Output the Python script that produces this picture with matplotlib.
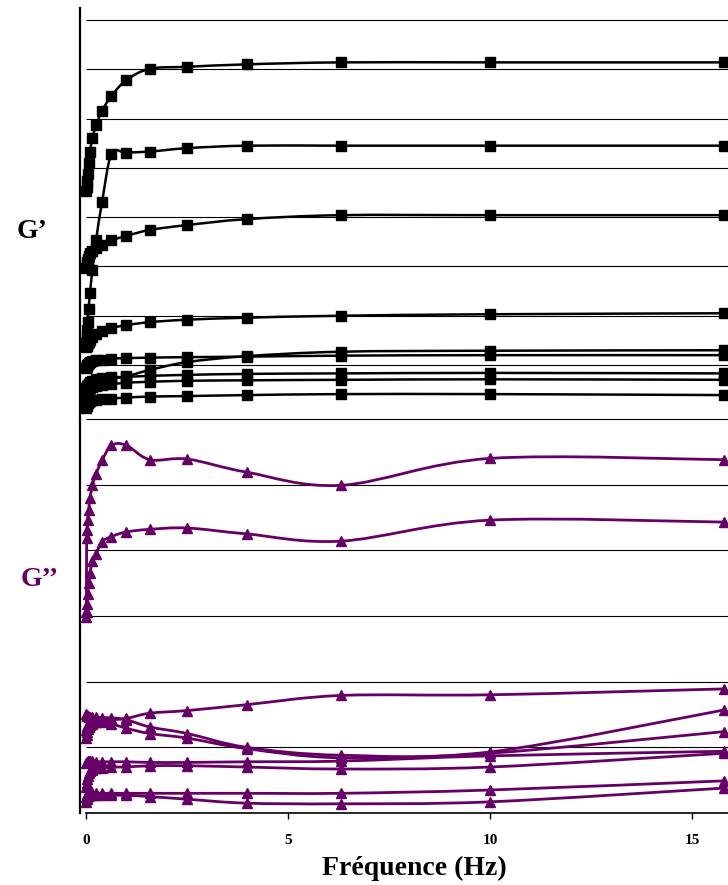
import numpy as np
import matplotlib
matplotlib.use('Agg')
import matplotlib.pyplot as plt
from matplotlib.path import Path
from matplotlib.patches import PathPatch

plt.rcParams['font.family'] = ['Liberation Serif', 'DejaVu Serif']

# Frequencies (Hz)
freq = [0.01, 0.0158, 0.0251, 0.0398, 0.0631, 0.1, 0.158, 0.251, 0.398, 0.631,
        1.0, 1.58, 2.51, 3.98, 6.31, 10.0, 15.8]

# G' series (arbitrary units, one unit per grid step)
gp_A = [4.53, 4.61, 4.73, 4.88, 5.10, 5.33, 5.60, 5.87, 6.16, 6.46, 6.78, 7.01, 7.05, 7.10, 7.14, 7.14, 7.14]
gp_B = [1.47, 1.59, 1.71, 1.87, 2.14, 2.46, 2.93, 3.54, 4.31, 5.28, 5.31, 5.33, 5.40, 5.45, 5.45, 5.45, 5.45]
gp_C = [2.97, 3.03, 3.09, 3.15, 3.21, 3.27, 3.32, 3.37, 3.43, 3.53, 3.62, 3.74, 3.84, 3.96, 4.04, 4.04, 4.04]
gp_D = [1.37, 1.39, 1.41, 1.44, 1.47, 1.51, 1.56, 1.62, 1.69, 1.75, 1.81, 1.87, 1.92, 1.96, 2.00, 2.03, 2.05]
gp_E = [0.53, 0.55, 0.57, 0.59, 0.61, 0.64, 0.66, 0.68, 0.70, 0.73, 0.77, 0.90, 1.06, 1.18, 1.27, 1.29, 1.30]
gp_F = [0.94, 0.97, 1.00, 1.03, 1.05, 1.07, 1.09, 1.10, 1.11, 1.13, 1.14, 1.15, 1.16, 1.17, 1.19, 1.20, 1.20]
gp_G = [0.45, 0.49, 0.53, 0.57, 0.61, 0.65, 0.68, 0.71, 0.73, 0.75, 0.76, 0.78, 0.80, 0.82, 0.83, 0.84, 0.83]
gp_H = [0.35, 0.39, 0.43, 0.47, 0.50, 0.53, 0.55, 0.57, 0.59, 0.61, 0.64, 0.66, 0.68, 0.69, 0.70, 0.71, 0.70]
gp_I = [0.13, 0.16, 0.19, 0.22, 0.25, 0.27, 0.29, 0.30, 0.31, 0.32, 0.34, 0.36, 0.37, 0.39, 0.41, 0.41, 0.39]

# G'' series (arbitrary units, one unit per grid step)
gpp_1 = [3.06, 4.19, 4.31, 4.46, 4.61, 4.79, 4.99, 5.17, 5.37, 5.60, 5.60, 5.38, 5.39, 5.19, 4.99, 5.40, 5.38]
gpp_2 = [2.98, 3.06, 3.19, 3.34, 3.50, 3.65, 3.83, 3.95, 4.13, 4.21, 4.28, 4.32, 4.34, 4.25, 4.14, 4.46, 4.43]
gpp_3 = [1.14, 1.19, 1.23, 1.28, 1.31, 1.34, 1.36, 1.39, 1.40, 1.42, 1.44, 1.52, 1.56, 1.65, 1.79, 1.80, 1.89]
gpp_4 = [1.51, 1.49, 1.48, 1.47, 1.46, 1.46, 1.46, 1.46, 1.45, 1.45, 1.42, 1.31, 1.21, 1.00, 0.88, 0.93, 1.57]
gpp_5 = [1.26, 1.29, 1.32, 1.34, 1.35, 1.37, 1.38, 1.39, 1.38, 1.36, 1.29, 1.21, 1.14, 0.98, 0.84, 0.91, 1.24]
gpp_6 = [0.76, 0.78, 0.78, 0.79, 0.79, 0.79, 0.79, 0.78, 0.78, 0.78, 0.78, 0.77, 0.77, 0.78, 0.79, 0.87, 0.94]
gpp_7 = [0.40, 0.46, 0.52, 0.56, 0.61, 0.64, 0.66, 0.68, 0.68, 0.70, 0.70, 0.72, 0.72, 0.70, 0.67, 0.70, 0.91]
gpp_8 = [0.24, 0.27, 0.29, 0.30, 0.30, 0.30, 0.30, 0.30, 0.30, 0.30, 0.30, 0.30, 0.30, 0.30, 0.30, 0.35, 0.49]
gpp_9 = [0.17, 0.21, 0.24, 0.26, 0.27, 0.27, 0.28, 0.28, 0.28, 0.27, 0.27, 0.25, 0.21, 0.15, 0.14, 0.17, 0.38]

gp_series = [gp_A, gp_B, gp_C, gp_D, gp_E, gp_F, gp_G, gp_H, gp_I]
gpp_series = [gpp_1, gpp_2, gpp_3, gpp_4, gpp_5, gpp_6, gpp_7, gpp_8, gpp_9]

xticks = [0, 5, 10, 15]
xlabel = 'Fréquence (Hz)'
label_gp = 'G\u2019'
label_gpp = 'G\u2019\u2019'

PURPLE = '#660066'
W, H = 728, 885
XMIN, XMAX = -0.1485, 15.89


def smooth_path(x, y):
    pts = np.column_stack([x, y]).astype(float)
    n = len(pts)
    verts = [pts[0]]
    codes = [Path.MOVETO]
    for i in range(n - 1):
        p0 = pts[max(i - 1, 0)]
        p1 = pts[i]
        p2 = pts[i + 1]
        p3 = pts[min(i + 2, n - 1)]
        c1 = p1 + (p2 - p0) / 6.0
        c2 = p2 - (p3 - p1) / 6.0
        verts += [c1, c2, p2]
        codes += [Path.CURVE4] * 3
    return Path(verts, codes)


fig = plt.figure(figsize=(W / 100, H / 100), dpi=100)

def frac_x(px):
    return px / W

def frac_y(py):
    return 1 - py / H

# upper axes: from y=8 to y=419 px ; lower: 419 to 813 px
left = frac_x(80)
width = frac_x(728) - left
ax_u = fig.add_axes([left, frac_y(419), width, frac_y(8) - frac_y(419)])
ax_l = fig.add_axes([left, frac_y(813), width, frac_y(419) - frac_y(813)])

for ax in (ax_u, ax_l):
    ax.set_xlim(XMIN, XMAX)
    ax.spines['top'].set_visible(False)
    ax.spines['right'].set_visible(False)
    ax.spines['left'].set_linewidth(1.6)
    ax.set_yticks([])
    ax.patch.set_alpha(0)

ax_u.set_ylim(-0.095, 8.243)
ax_u.spines['bottom'].set_visible(False)
ax_u.set_xticks([])
ax_u.hlines(range(1, 9), 0, XMAX, color='black', lw=0.8, zorder=1)

ax_l.set_ylim(0, 6)
ax_l.hlines(range(1, 7), 0, XMAX, color='black', lw=0.8, zorder=1, clip_on=False)
ax_l.spines['bottom'].set_bounds(0, XMAX)
ax_l.spines['bottom'].set_linewidth(1.2)
ax_l.set_xticks(xticks)
ax_l.set_xticklabels([str(t) for t in xticks], fontsize=11, fontweight='bold')
ax_l.tick_params(axis='x', direction='out', length=4, width=1.0, pad=11)

for s in gp_series:
    ax_u.add_patch(PathPatch(smooth_path(freq, s), fill=False, edgecolor='black',
                             lw=1.8, zorder=3))
    ax_u.plot(freq, s, linestyle='none', marker='s', ms=7, color='black',
              mec='black', zorder=4)

for s in gpp_series:
    ax_l.add_patch(PathPatch(smooth_path(freq, s), fill=False, edgecolor=PURPLE,
                             lw=2.0, zorder=3))
    ax_l.plot(freq, s, linestyle='none', marker='^', ms=7.5, color=PURPLE,
              mec=PURPLE, zorder=4)

fig.text(frac_x(414), frac_y(868), xlabel, ha='center', va='center',
         fontsize=20, fontweight='bold')
fig.text(frac_x(32), frac_y(232), label_gp, ha='center', va='center',
         fontsize=20, fontweight='bold', color='black')
fig.text(frac_x(40), frac_y(580), label_gpp, ha='center', va='center',
         fontsize=20, fontweight='bold', color=PURPLE)

fig.savefig('out.png', dpi=100)
